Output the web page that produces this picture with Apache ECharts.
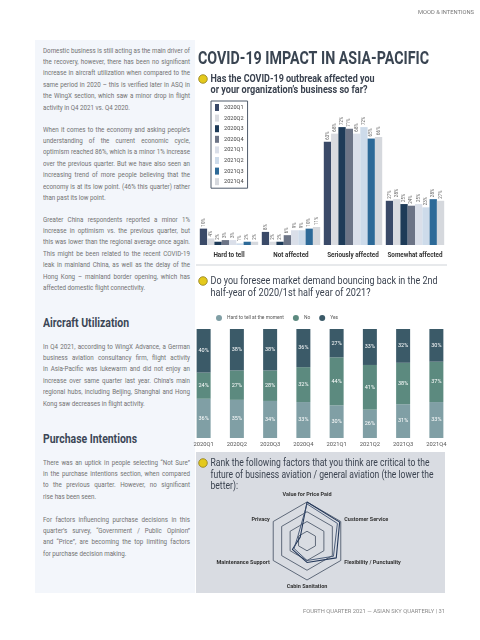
<!DOCTYPE html>
<html><head><meta charset="utf-8">
<script src="https://cdn.jsdelivr.net/npm/echarts@6/dist/echarts.min.js"></script>
<style>
html,body{margin:0;padding:0;background:#fff;width:480px;height:640px;overflow:hidden;font-family:Roboto,sans-serif}
#panel{position:absolute;left:35px;top:40px;width:160px;height:553px;background:#f3f6fb}
#txt{position:absolute;left:0;top:0;width:480px;height:640px}
#chart{position:absolute;left:0;top:0;width:480px;height:640px}
.ln{position:absolute;white-space:nowrap;transform-origin:0 50%;font-size:7px;color:#727272;line-height:11px;height:11px;font-family:Roboto}
.hd{position:absolute;white-space:nowrap;transform-origin:0 50%;font-weight:700;color:#3b4656;font-family:Roboto;font-size:12px;line-height:14px}
</style></head><body>
<div id="panel"></div><div id="txt"></div><div id="chart"></div>
<script>
// ---------- DATA ----------
const quarters = ['2020Q1','2020Q2','2020Q3','2020Q4','2021Q1','2021Q2','2021Q3','2021Q4'];
const impactCats = ['Hard to tell','Not affected','Seriously affected','Somewhat affected'];
const hardToTell = [10,4,2,3,3,1,2,2];
const notAffected = [8,2,2,6,9,9,10,11];
const seriouslyAffected = [63,68,72,71,68,72,65,66];
const somewhatAffected = [27,28,25,24,25,23,28,27];

const bounceNames = ['Hard to tell at the moment','No','Yes'];
const bounceHard = [36,35,34,33,30,26,31,33];
const bounceNo = [24,27,28,32,44,41,38,37];
const bounceYes = [40,38,38,36,27,33,32,30];

const factorNames = ['Value for Price Paid','Privacy','Maintenance Support','Cabin Sanitation','Flexibility / Punctuality','Customer Service'];
const rankA = [6,1.2,2.6,3.3,5.2,5.8];
const rankB = [5.7,1.6,2.3,3.0,4.7,5.4];

// ---------- LEFT TEXT ----------
const paragraphs = [
 {y:51, lines:['Domestic business is still acting as the main driver of','the recovery, however, there has been no significant','increase in aircraft utilization when compared to the','same period in 2020 – this is verified later in ASQ in','the WingX section, which saw a minor drop in flight','activity in Q4 2021 vs. Q4 2020.']},
 {y:130, lines:['When it comes to the economy and asking people’s','understanding of the current economic cycle,','optimism reached 86%, which is a minor 1% increase','over the previous quarter. But we have also seen an','increasing trend of more people believing that the','economy is at its low point. (46% this quarter) rather','than past its low point.']},
 {y:220, lines:['Greater China respondents reported a minor 1%','increase in optimism vs. the previous quarter,  but','this was lower than the regional average once again.','This might be been related to the recent COVID-19','leak in mainland China, as well as the delay of the','Hong Kong – mainland border opening, which has','affected domestic flight connectivity.']},
 {y:347, lines:['In Q4 2021, according to WingX Advance, a German','business aviation consultancy firm, flight activity','in Asia-Pacific was lukewarm and did not enjoy an','increase over same quarter last year. China’s main','regional hubs, including Beijing, Shanghai and Hong','Kong saw decreases in flight activity.']},
 {y:463, lines:['There was an uptick in people selecting “Not Sure”','in the purchase intentions section, when compared','to the previous quarter.  However, no significant','rise has been seen.']},
 {y:520, lines:['For factors influencing purchase decisions in this','quarter’s survey, “Government / Public Opinion”','and “Price”, are becoming the top limiting factors','for purchase decision making.']}
];
const headings = [{t:'Aircraft Utilization', y:323, w:86},{t:'Purchase Intentions', y:439, w:94}];

const mc = document.createElement('canvas').getContext('2d');
function tw(text,size,weight){ mc.font=(weight||'normal')+' '+size+'px Roboto'; return mc.measureText(text).width; }

(function(){
  const box = document.getElementById('txt');
  const W = 147, LH = 11.4;
  let maxW = 0;
  paragraphs.forEach(p=>p.lines.forEach((l,i)=>{ if(i<p.lines.length-1) maxW=Math.max(maxW,tw(l,7,'normal')); }));
  const s = W/maxW;
  paragraphs.forEach(p=>p.lines.forEach((l,i)=>{
    const d=document.createElement('div'); d.className='ln'; d.textContent=l;
    const last = i===p.lines.length-1;
    d.style.left='43px'; d.style.top=(p.y+i*LH-5.5)+'px';
    d.style.width=(W/s)+'px'; d.style.transform='scaleX('+s+')';
    d.style.textAlign='justify'; d.style.textAlignLast= last?'left':'justify';
    box.appendChild(d);
  }));
  headings.forEach(h=>{
    const d=document.createElement('div'); d.className='hd'; d.textContent=h.t;
    const sc = h.w/tw(h.t,12,'bold');
    d.style.left='43px'; d.style.top=(h.y-7)+'px'; d.style.transform='scaleX('+sc+')';
    box.appendChild(d);
  });
})();

// ---------- CHART ----------
function gtext(text,x,y,size,weight,color,target,align,fixedScale){
  const s = fixedScale ? fixedScale : (target ? target/tw(text,size,weight) : 1);
  return {type:'text', x: align==='right' ? x - target : x, y:y, scaleX:s, scaleY:1, z:5,
    style:{text:text, fontSize:size, fontWeight:weight, fontFamily:'Roboto', fill:color, verticalAlign:'middle', align:'left'}};
}
function dot(x,y){ return {type:'circle', shape:{cx:x,cy:y,r:4.3}, z:5, style:{fill:'#e4c91c', stroke:'#8f7d1e', lineWidth:0.8}}; }
const q3Line1 = 'Rank the following factors that you think are critical to the';
const q3Scale = 219/tw(q3Line1,11,'normal');

const q1Colors = ['#3a4a68','#d9dbe0','#1e3b58','#6c7486','#dadfe9','#cddbea','#2d6a98','#d5d8dd'];
const impactByQuarter = quarters.map((q,i)=>[hardToTell[i],notAffected[i],seriouslyAffected[i],somewhatAffected[i]]);

const series = [];
quarters.forEach((q,i)=>{
  series.push({name:q, type:'bar', xAxisIndex:0, yAxisIndex:0, data:impactByQuarter[i],
    barWidth:7.3, barGap:'0%', itemStyle:{color:q1Colors[i]},
    label:{show:true, position:'top', rotate:90, align:'left', verticalAlign:'middle', distance:2,
      fontSize:4.5, color:'#666', formatter:'{c}%'}});
});
const bounceColors = ['#809fa5','#5c8a7f','#3b5a68'];
[bounceHard,bounceNo,bounceYes].forEach((arr,k)=>{
  series.push({name:bounceNames[k], type:'bar', xAxisIndex:1, yAxisIndex:1, stack:'b', data:arr,
    barWidth:14, itemStyle:{color:bounceColors[k]},
    label:{show:true, position:'inside', fontSize:5.5, color:'#fff', formatter:'{c}%'}});
});
series.push({type:'radar', radarIndex:0, symbol:'none', z:3,
  data:[{value:rankA, name:'A', lineStyle:{color:'#24385a', width:1.1}},
        {value:rankB, name:'B', lineStyle:{color:'#3c4f6e', width:0.9}}]});

const chart = echarts.init(document.getElementById('chart'), null, {renderer:'canvas'});
chart.setOption({
  animation:false,
  backgroundColor:'transparent',
  textStyle:{fontFamily:'Roboto'},
  grid:[
    {left:198, right:34, top:114, bottom:395},
    {left:187, right:27, top:329, bottom:202}
  ],
  xAxis:[
    {type:'category', gridIndex:0, data:impactCats, axisLine:{show:false}, axisTick:{show:false},
     axisLabel:{interval:0, fontSize:6.3, fontWeight:'bold', color:'#333', margin:7}},
    {type:'category', gridIndex:1, data:quarters, axisLine:{show:false}, axisTick:{show:false},
     axisLabel:{interval:0, fontSize:5.8, color:'#555', margin:4}}
  ],
  yAxis:[
    {type:'value', gridIndex:0, min:0, max:80, show:false},
    {type:'value', gridIndex:1, min:0, max:100, show:false}
  ],
  legend:[
    {data:quarters, orient:'vertical', left:211, top:101, itemWidth:4, itemHeight:7, itemGap:3.6,
     padding:[3,4,3,4], borderColor:'#4f5b6b', borderWidth:1, icon:'rect',
     textStyle:{fontSize:5.6, color:'#444'}},
    {data:bounceNames, orient:'horizontal', left:211, top:310, itemWidth:6, itemHeight:6, itemGap:9, icon:'circle',
     textStyle:{fontSize:4.9, color:'#555'}}
  ],
  radar:{center:[307,541], radius:39, startAngle:90, splitNumber:4, shape:'polygon', nameGap:4,
    indicator: factorNames.map(n=>({name:n, max:6, min:0})),
    axisName:{color:'#333', fontSize:5.5, fontWeight:'bold'},
    splitLine:{lineStyle:{color:'#3f4b5e', width:0.8}}, splitArea:{show:false}, axisLine:{show:false}},
  graphic:[
    {type:'rect', shape:{x:196,y:452,width:249,height:141}, z:-10, style:{fill:'#d9dce2'}},
    {type:'line', shape:{x1:196,y1:265,x2:447,y2:265}, style:{stroke:'#cfd3d8', lineWidth:1}},
    gtext('MOOD & INTENTIONS', 418, 12, 6, 'normal', '#777', 56),
    gtext('COVID-19 IMPACT IN ASIA-PACIFIC', 198, 59.5, 18, 'bold', '#3a4552', 231),
    dot(203,79),
    gtext('Has the COVID-19 outbreak affected you', 210.5, 79, 11, 'bold', '#3b4350', 164),
    gtext('or your organization’s business so far?', 210.5, 90.5, 11, 'bold', '#3b4350', 157),
    dot(203,281),
    gtext('Do you foresee market demand bouncing back in the 2nd', 210.5, 281.5, 11, 'normal', '#3b4350', 227),
    gtext('half-year of 2020/1st half year of 2021?', 210.5, 293.5, 11, 'normal', '#3b4350', 160),
    dot(203,463),
    gtext(q3Line1, 210.5, 463, 11, 'normal', '#3b4350', 219),
    gtext('future of business aviation / general aviation (the lower the', 210.5, 475, 11, 'normal', '#3b4350', 223),
    gtext('better):', 210.5, 486.5, 11, 'normal', '#3b4350', null, null, q3Scale),
    gtext('FOURTH QUARTER 2021 — ASIAN SKY QUARTERLY | 31', 445, 612, 5, 'normal', '#8a8a8a', 142, 'right')
  ],
  series:series
});
</script></body></html>
